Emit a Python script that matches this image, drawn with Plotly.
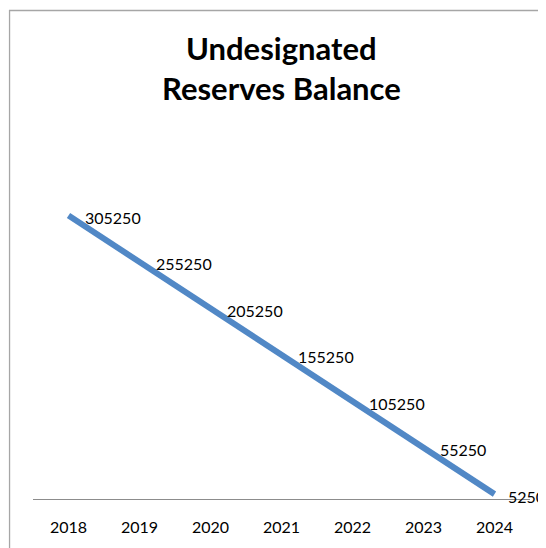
import plotly.graph_objects as go

years = ["2018", "2019", "2020", "2021", "2022", "2023", "2024"]
balance = [305250, 255250, 205250, 155250, 105250, 55250, 5250]
title_lines = ["Undesignated", "Reserves Balance"]

# the page body adds an 8px margin, so the figure is drawn 8px smaller
W, H = 538, 540
L, R, T, B = 24.5, 15.5, 166, 45
pw, ph = W - L - R, H - T - B
FONT = "Lato, Carlito, sans-serif"

def px_x(px):
    return (px - L) / pw

def px_y(py):
    return (H - B - py) / ph

fig = go.Figure()
fig.add_trace(go.Scatter(
    x=years, y=balance, mode="lines",
    line=dict(color="#5188C6", width=6),
    cliponaxis=False,
    hoverinfo="skip",
))

annotations = []
n = len(balance)
for i, v in enumerate(balance):
    last = i == n - 1
    annotations.append(dict(
        x=i, y=v, xref="x", yref="y", text=str(v), showarrow=False,
        xanchor="left", yanchor="middle", xshift=12 if last else 15, yshift=-2,
        borderpad=0, font=dict(family=FONT, size=16, color="#000000"),
    ))
for line, cy in zip(title_lines, [38, 79]):
    annotations.append(dict(
        x=px_x(274), y=px_y(cy), xref="paper", yref="paper", text=line,
        showarrow=False, xanchor="center", yanchor="middle", borderpad=0,
        font=dict(family=FONT, size=31, color="#000000", weight="bold"),
    ))

fig.update_layout(
    width=W, height=H,
    margin=dict(l=L, r=R, t=T, b=B, pad=0),
    paper_bgcolor="white", plot_bgcolor="white",
    showlegend=False,
    annotations=annotations,
    xaxis=dict(
        type="category", range=[-0.5, 6.5],
        showline=True, linecolor="#8C8C8C", linewidth=1,
        showgrid=False, zeroline=False, ticks="",
        tickfont=dict(family=FONT, size=16, color="#000000"),
        ticklabelstandoff=14,
    ),
    yaxis=dict(range=[0, 350000], visible=False, showgrid=False, zeroline=False),
    shapes=[dict(
        type="rect", xref="paper", yref="paper",
        x0=px_x(1), x1=px_x(620), y0=px_y(0.5), y1=px_y(620),
        line=dict(color="#A6A6A6", width=1.3), fillcolor="rgba(0,0,0,0)",
        layer="below",
    )],
)

fig.write_html("out.html")
